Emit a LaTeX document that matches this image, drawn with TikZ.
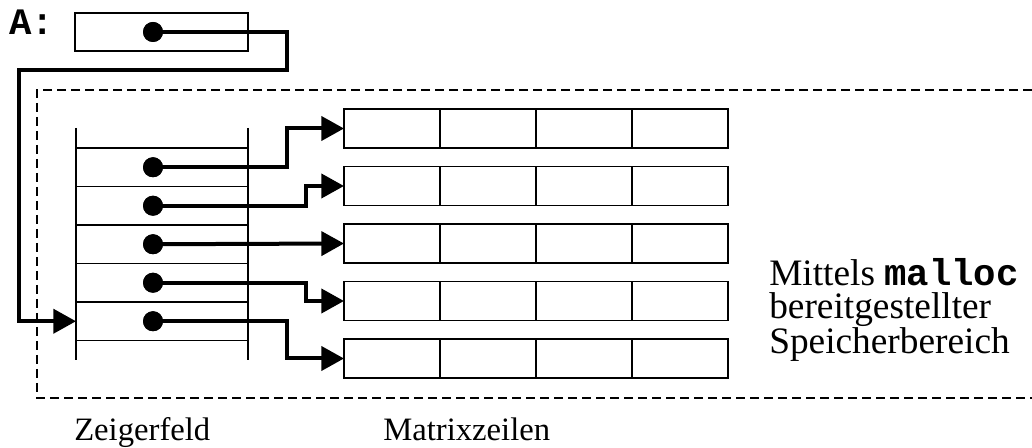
\documentclass[tikz,border=0pt]{standalone}
\usepackage{fontspec}
\setmainfont{Liberation Serif}
\setmonofont{Liberation Mono}
\usetikzlibrary{arrows.meta,calc}
\begin{document}
\begin{tikzpicture}[x=0.75pt,y=-0.75pt,
  conn/.style={line width=3pt,-{Triangle[length=17pt,width=18pt]}},
  dot/.style={circle,fill=black,inner sep=0pt,outer sep=0pt,minimum size=15pt},
  abox/.style={draw,line width=1.4pt,inner sep=0pt,outer sep=0pt,minimum width=129.75pt,minimum height=28.5pt},
  rowbox/.style={draw,line width=1.4pt,inner sep=0pt,outer sep=0pt,minimum width=288pt,minimum height=29.25pt},
  cell/.style={inner sep=0pt,outer sep=0pt,minimum width=129pt,minimum height=28.875pt},
  thin/.style={line width=1.1pt},
  region/.style={line width=1.5pt,dash pattern=on 6.75pt off 3.75pt},
  lbl/.style={font=\fontsize{24.5}{24.5}\selectfont,inner sep=0pt},
  big/.style={font=\fontsize{28}{25.2}\selectfont,inner sep=0pt,align=left},
  code/.style={font=\fontsize{28}{28}\selectfont\ttfamily\bfseries,inner sep=0pt}]
\useasboundingbox (0,0) rectangle (1032,448);

% dashed memory region
\draw[region] (1032,90) -- (37,90) -- (37,398) -- (1032,398);

% variable A
\node[code,anchor=base west] (Alab) at (9,35) {A:};
\node[abox] (A) at (161.5,32) {};
\node[dot] (dA) at (153,32) {};

% pointer field cells
\foreach \i in {1,...,5}{
  \node[cell] (c\i) at (162,{167.25+38.5*(\i-1)}) {};
  \node[dot] (d\i) at (153,{167.25+38.5*(\i-1)}) {};
  \draw[thin] (c\i.north west) -- (c\i.north east);
}
\draw[thin] (c5.south west) -- (c5.south east);
\draw[thin] ($(c1.north west)+(0,-20)$) -- ($(c5.south west)+(0,19.5)$);
\draw[thin] ($(c1.north east)+(0,-20)$) -- ($(c5.south east)+(0,19.5)$);

% matrix rows
\foreach \i in {1,...,5}{
  \node[rowbox] (r\i) at (536,{128.5+57.5*(\i-1)}) {};
  \foreach \k in {1,2,3}{
    \draw[line width=1.4pt] ($(r\i.north west)!\k/4!(r\i.north east)$) -- ($(r\i.south west)!\k/4!(r\i.south east)$);
  }
}

% connector from A into the pointer field
\coordinate (k1) at (287,70);
\coordinate (k2) at (19,70);
\draw[conn] (dA.center) -| (k1) -- (k2) |- (c5.west);

% pointers to rows
\draw[conn] (d1.center) -- ++(134,0) |- (r1.west);
\draw[conn] (d2.center) -- ++(153,0) |- (r2.west);
\draw[conn] (d3.center) -- (r3.west);
\draw[conn] (d4.center) -- ++(153,0) |- (r4.west);
\draw[conn] (d5.center) -- ++(134,0) |- (r5.west);

% redraw dots on top
\foreach \i in {1,...,5}{ \fill (d\i) circle (7.5pt); }
\fill (dA) circle (7.5pt);

% labels
\node[lbl,anchor=base west] (zf) at (74,441) {Zeigerfeld};
\node[lbl,anchor=base west] (mz) at (383,441) {Matrixzeilen};
\node[big,anchor=base west] (mt) at (769,354) {Mittels {\ttfamily\bfseries malloc}\\bereitgestellter\\Speicherbereich};
\end{tikzpicture}
\end{document}
